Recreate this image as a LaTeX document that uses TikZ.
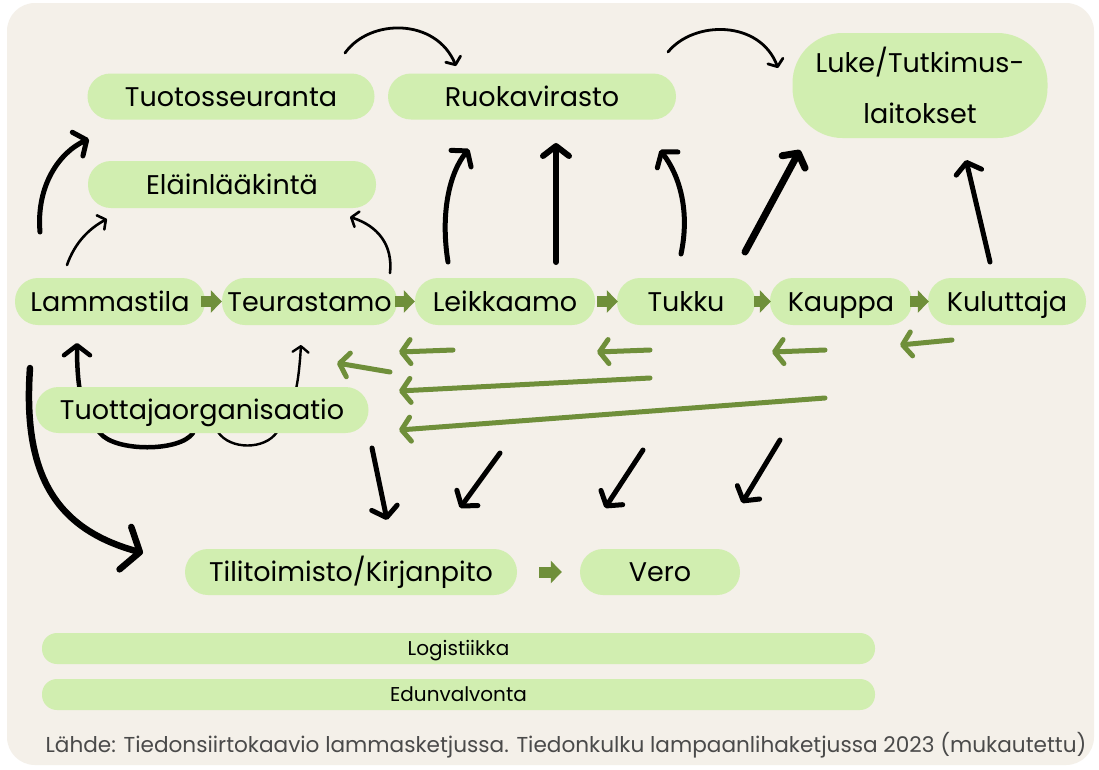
\documentclass[tikz,border=0pt]{standalone}
\usepackage{fontspec}
\setmainfont{Poppins}
\usetikzlibrary{arrows.meta}
\definecolor{bgbeige}{HTML}{F4F0E9}
\definecolor{boxgreen}{HTML}{D1EEB0}
\definecolor{arrgreen}{HTML}{6F8F3A}
\definecolor{srcgrey}{HTML}{4A4A4A}
\pgfdeclarelayer{bg}
\pgfdeclarelayer{behind}
\pgfsetlayers{bg,behind,main}
\begin{document}
\begin{tikzpicture}[x=1pt,y=-1pt,
  boxbase/.style={fill=boxgreen, rounded corners=23, minimum height=46, inner sep=0pt, text=black, font=\fontsize{27}{32}\selectfont},
  box/.style={boxbase, text height=19.5pt, text depth=0pt},
  bar/.style={fill=boxgreen, rounded corners=15, minimum height=31, minimum width=833, inner sep=0pt, text=black, font=\fontsize{20}{24}\selectfont, text height=14pt, text depth=0pt},
  flow/.style={arrgreen, line width=11pt, -{Triangle[length=11pt,width=22pt]}},
  back/.style={arrgreen, line width=5pt, line cap=round, -{Straight Barb[length=9pt,width=24pt,line cap=round,line join=round]}},
  blk/.style={black, line width=#1, line cap=round, -{Straight Barb[length=10pt,width=26pt,line cap=round,line join=round]}},
  blk/.default=5pt,
  thin/.style={black, line width=2.6pt, line cap=round, -{Straight Barb[length=6pt,width=16pt,line cap=round,line join=round]}}
]
\useasboundingbox (0,0) rectangle (1099,769);
\begin{pgfonlayer}{bg}
\fill[white] (0,0) rectangle (1099,769);
\fill[bgbeige, rounded corners=28] (7,3) rectangle (1094,765);
\end{pgfonlayer}

% nodes
\node[box, minimum width=287] (tuot) at (231,96.5) {Tuotosseuranta};
\node[box, minimum width=288] (ruoka) at (532,96.5) {Ruokavirasto};
\node[boxbase, minimum width=255, minimum height=105, rounded corners=50, align=center, font=\fontsize{27}{49}\selectfont] (luke) at (920,85.5) {Luke/Tutkimus-\\[2pt]laitokset};
\node[box, minimum width=288, minimum height=47] (elain) at (232,184.5) {Eläinlääkintä};
\node[box, minimum width=190, minimum height=47] (lamm) at (110,301.5) {Lammastila};
\node[box, minimum width=175, minimum height=47] (teur) at (309.5,301.5) {Teurastamo};
\node[box, minimum width=180, minimum height=47] (leik) at (505,301.5) {Leikkaamo};
\node[box, minimum width=138, minimum height=47] (tukku) at (686,301.5) {Tukku};
\node[box, minimum width=142, minimum height=47] (kauppa) at (841,301.5) {Kauppa};
\node[box, minimum width=158, minimum height=47] (kulut) at (1007,301.5) {Kuluttaja};
\node[box, minimum width=333] (tuottaja) at (202,410) {Tuottajaorganisaatio};
\node[box, minimum width=332] (tili) at (351,572) {Tilitoimisto/Kirjanpito};
\node[box, minimum width=160] (vero) at (660,572) {Vero};
\node[bar] (logi) at (458.5,648.5) {Logistiikka};
\node[bar] (edun) at (458.5,694.5) {Edunvalvonta};
\node[text=srcgrey, font=\fontsize{21.6}{24}\selectfont, inner sep=0pt] (src) at (566,745) {Lähde: Tiedonsiirtokaavio lammasketjussa. Tiedonkulku lampaanlihaketjussa 2023 (mukautettu)};

% green flow arrows
\draw[flow] ([xshift=-4pt]lamm.east) -- (teur.west);
\draw[flow] ([xshift=-2pt]teur.east) -- (leik.west);
\draw[flow] ([xshift=2pt]leik.east) -- ([xshift=1pt]tukku.west);
\draw[flow] ([xshift=-1pt]tukku.east) -- ([xshift=1pt]kauppa.west);
\draw[flow] ([xshift=-2pt]kauppa.east) -- ([xshift=1pt]kulut.west);
\draw[flow] ([xshift=22pt]tili.east) -- ([xshift=-18pt]vero.west);

% coordinates for free ends
\coordinate (a1s) at (40,232);   \coordinate (a1e) at (89,139);
\coordinate (a2s) at (67,265);   \coordinate (a2e) at (107,219);
\coordinate (a3s) at (390,273);  \coordinate (a3e) at (350,217);
\coordinate (a4s) at (345,53);   \coordinate (a4e) at (456,66);
\coordinate (a5s) at (668,52);   \coordinate (a5e) at (778,68);
\coordinate (a6s) at (448,262);  \coordinate (a6e) at (469,149);
\coordinate (a7s) at (556,262);  \coordinate (a7e) at (556,143);
\coordinate (a8s) at (681,254);  \coordinate (a8e) at (660,150);
\coordinate (a9s) at (745,252);  \coordinate (a9e) at (800,150);
\coordinate (a10s) at (990,262); \coordinate (a10e) at (966,160);
\coordinate (a11s) at (193,433); \coordinate (a11e) at (77,343);
\coordinate (a12s) at (218,432); \coordinate (a12e) at (301,345);
\coordinate (a13s) at (30,368);  \coordinate (a13e) at (143,553);
\coordinate (a14s) at (372,448); \coordinate (a14e) at (387,520);
\coordinate (a15s) at (500,453); \coordinate (a15e) at (460,508);
\coordinate (a16s) at (643,450); \coordinate (a16e) at (605,508);
\coordinate (a17s) at (780,440); \coordinate (a17e) at (742,503);

% black arrows
\draw[blk=5pt] (a1s) .. controls (36,185) and (60,152) .. (a1e);
\draw[thin] (a2s) .. controls (75,242) and (90,228) .. (a2e);
\draw[thin] (a3s) .. controls (393,245) and (378,226) .. (a3e);
\draw[thin, line width=2.8pt] (a4s) .. controls (370,18) and (436,18) .. (a4e);
\draw[thin, line width=2.8pt] (a5s) .. controls (694,20) and (760,20) .. (a5e);
\draw[blk=5pt] (a6s) .. controls (440,212) and (450,172) .. (a6e);
\draw[blk=6pt] (a7s) -- (a7e);
\draw[blk=5pt] (a8s) .. controls (690,212) and (680,176) .. (a8e);
\draw[blk=7pt] (a9s) -- (a9e);
\draw[blk=5pt] (a10s) -- (a10e);
\begin{pgfonlayer}{behind}
\draw[blk=4.5pt] (a11s) .. controls (180,452) and (115,452) .. (100,433) .. controls (85,415) and (77,400) .. (a11e);
\draw[thin, line width=2.4pt] (a12s) .. controls (230,450) and (265,450) .. (277,432) .. controls (292,410) and (298,395) .. (a12e);
\end{pgfonlayer}
\draw[black, line width=6.5pt, line cap=round, -{Straight Barb[length=15pt,width=44pt,line cap=round,line join=round]}] (a13s) .. controls (22,480) and (60,530) .. (a13e);
\draw[blk=5pt] (a14s) -- (a14e);
\draw[blk=5pt] (a15s) -- (a15e);
\draw[blk=5pt] (a16s) -- (a16e);
\draw[blk=5pt] (a17s) -- (a17e);

% green back arrows
\coordinate (g1s) at (453,350); \coordinate (g1e) at (399,352);
\coordinate (g2s) at (390,372); \coordinate (g2e) at (337,363);
\coordinate (g3s) at (650,350); \coordinate (g3e) at (597,352);
\coordinate (g4s) at (825,350); \coordinate (g4e) at (772,352);
\coordinate (g5s) at (952,340); \coordinate (g5e) at (900,345);
\coordinate (g6s) at (650,378); \coordinate (g6e) at (399,391);
\coordinate (g7s) at (825,398); \coordinate (g7e) at (399,430);
\foreach \i in {1,...,7} {\draw[back] (g\i s) -- (g\i e);}
\end{tikzpicture}
\end{document}
